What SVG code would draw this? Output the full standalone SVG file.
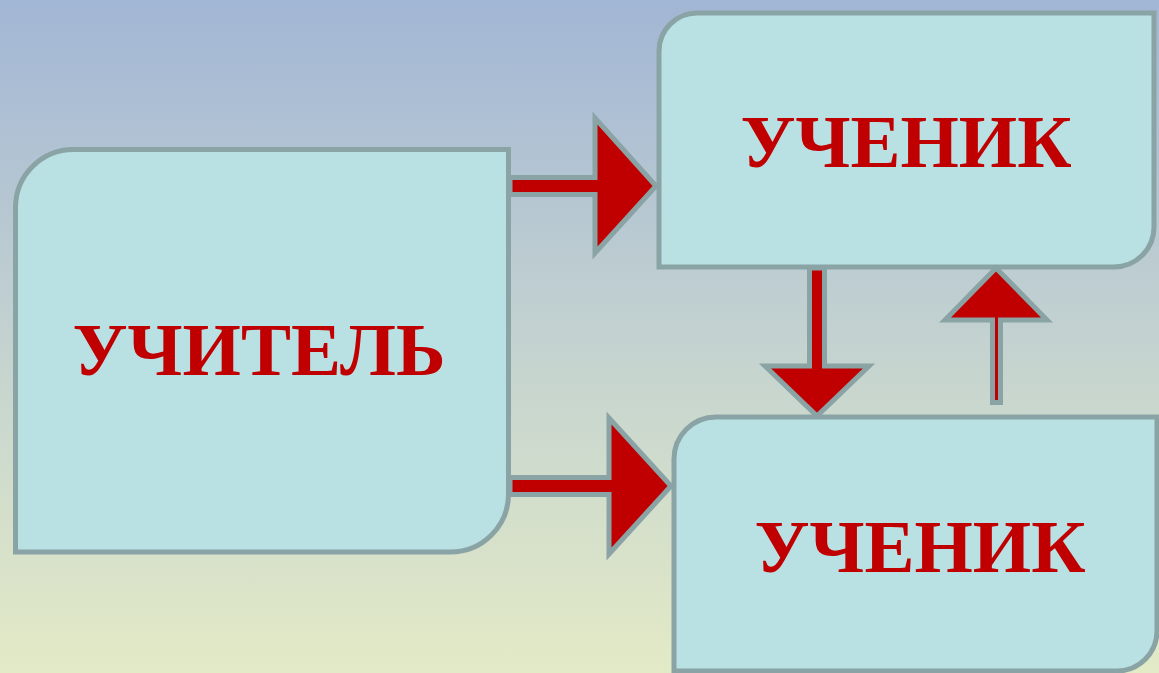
<svg xmlns="http://www.w3.org/2000/svg" width="1159" height="673" viewBox="0 0 1159 673">
<defs>
<linearGradient id="bg" x1="0" y1="0" x2="0" y2="1">
<stop offset="0" stop-color="#a2b6d5"/>
<stop offset="0.5" stop-color="#c3d2d0"/>
<stop offset="1" stop-color="#e3eac6"/>
</linearGradient>
<style>
.box{fill:#b9e0e3;stroke:#8aa3a5;stroke-width:5}
.arr{fill:#c00000;stroke:#8aa3a5;stroke-width:5;stroke-linejoin:miter}
.lbl{font-family:"Liberation Serif","Times New Roman",serif;font-weight:bold;font-size:75px;fill:#c00000;text-anchor:middle}
</style>
</defs>
<rect x="0" y="0" width="1159" height="673" fill="url(#bg)"/>
<g id="teacher">
<path class="box" d="M15.5,207.5 A58,58 0 0 1 73.5,149.5 H508.5 V494 A58,58 0 0 1 450.5,552 H15.5 Z"/>
<text class="lbl" x="259" y="375">УЧИТЕЛЬ</text>
</g>
<g id="student1">
<path class="box" d="M659,51 A38,38 0 0 1 697,13 H1154 V227 A40,40 0 0 1 1114,267 H659 Z"/>
<text class="lbl" x="906" y="167">УЧЕНИК</text>
</g>
<g id="student2">
<path class="box" d="M674,459 A42,42 0 0 1 716,417 H1157 V631 A40,40 0 0 1 1117,671 H674 Z"/>
<text class="lbl" x="920" y="572">УЧЕНИК</text>
</g>
<g id="connectors">
<polygon class="arr" points="510,177.5 595,177.5 595,118 656,186 595,253 595,194.5 510,194.5"/>
<polygon class="arr" points="510,477.5 609,477.5 609,418 671,486 609,554 609,494.5 510,494.5"/>
<polygon class="arr" points="809.5,268 809.5,366 765,366 817,416 869,366 824.5,366 824.5,268"/>
<polygon class="arr" points="992.5,402.5 992.5,320 945,320 996,268 1047,320 1000.5,320 1000.5,402.5"/>
</g>
</svg>
